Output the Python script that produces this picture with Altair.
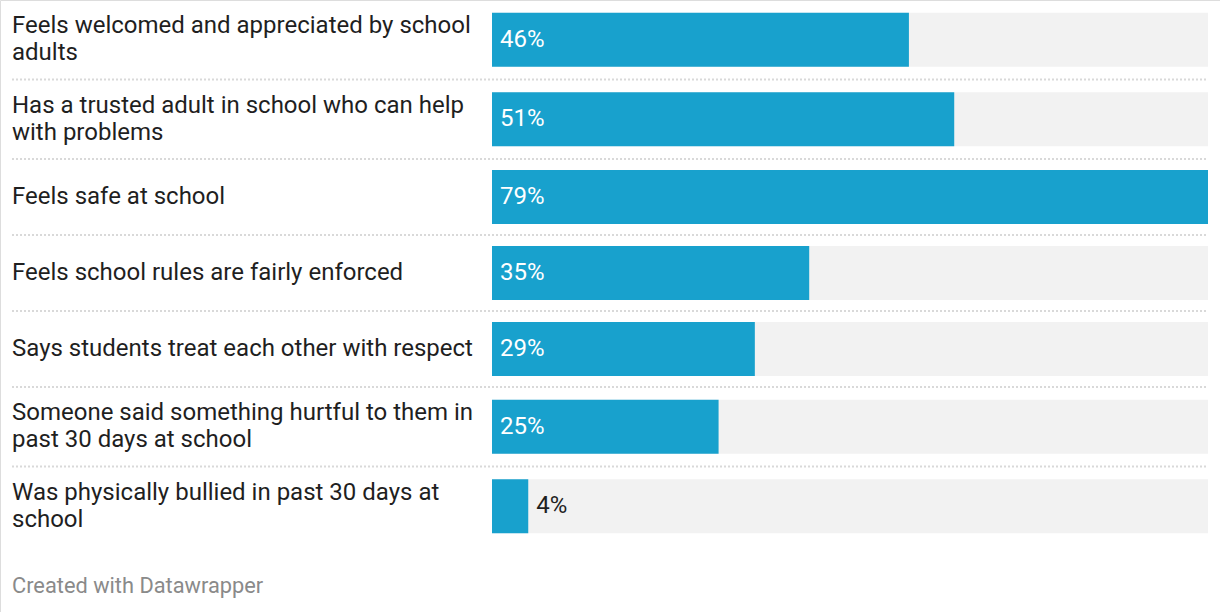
import altair as alt
import pandas as pd

labels = [
    "Feels welcomed and appreciated by school\nadults",
    "Has a trusted adult in school who can help\nwith problems",
    "Feels safe at school",
    "Feels school rules are fairly enforced",
    "Says students treat each other with respect",
    "Someone said something hurtful to them in\npast 30 days at school",
    "Was physically bullied in past 30 days at\nschool",
]
values = [46, 51, 79, 35, 29, 25, 4]

df = pd.DataFrame({"label": labels, "value": values, "idx": list(range(len(values)))})

FONT = "Roboto"
W, H = 1220, 612
LH = 27

xscale = alt.Scale(domain=[0, 79], range=[492, 1208], nice=False, zero=True)
yscale = alt.Scale(domain=[0, 546], range=[0, 546], nice=False, zero=False)

base = (
    alt.Chart(df)
    .transform_calculate(nl="length(split(datum.label, '\\n'))")
    .transform_calculate(rowh="datum.nl > 1 ? 79.5 : 76")
    .transform_window(cum="sum(rowh)", sort=[alt.SortField("idx")], frame=[None, 0])
    .transform_calculate(
        mid="datum.cum - datum.rowh / 2",
        y0="datum.cum - datum.rowh / 2 - 27",
        y1="datum.cum - datum.rowh / 2 + 27",
        ty=f"datum.cum - datum.rowh / 2 - (datum.nl - 1) * {LH} / 2",
        zero="0",
    )
    .transform_joinaggregate(maxv="max(value)")
)

bg = base.mark_rect(color="#f2f2f2").encode(
    x=alt.X("zero:Q", scale=xscale, axis=None),
    x2="maxv:Q",
    y=alt.Y("y0:Q", scale=yscale, axis=None),
    y2="y1:Q",
)

bars = base.mark_rect(color="#18a1cd").encode(
    x=alt.X("zero:Q", scale=xscale, axis=None),
    x2="value:Q",
    y=alt.Y("y0:Q", scale=yscale, axis=None),
    y2="y1:Q",
)

seps = base.transform_filter("datum.idx < 6").mark_rule(
    color="#d9d9d9", strokeWidth=2, strokeDash=[2, 2]
).encode(
    x=alt.value(12), x2=alt.value(1208),
    y=alt.Y("cum:Q", scale=yscale, axis=None),
)

cat_text = base.mark_text(
    align="left", baseline="middle", font=FONT, fontSize=24, color="#1f1f1f",
    lineHeight=LH, lineBreak="\n",
).encode(
    x=alt.value(12),
    y=alt.Y("ty:Q", scale=yscale, axis=None),
    text="label:N",
)

val_text = base.transform_calculate(
    pos="datum.value < 10 ? datum.value : 0",
    txt="datum.value + '%'",
).mark_text(
    align="left", baseline="middle", font=FONT, fontSize=24, dx=8,
).encode(
    x=alt.X("pos:Q", scale=xscale, axis=None),
    y=alt.Y("mid:Q", scale=yscale, axis=None),
    text="txt:N",
    color=alt.condition("datum.value < 10", alt.value("#1f1f1f"), alt.value("#ffffff")),
)

footer = alt.Chart(pd.DataFrame({"t": ["Created with Datawrapper"]})).mark_text(
    align="left", baseline="middle", font=FONT, fontSize=21.8, color="#8a8a8a"
).encode(x=alt.value(12), y=alt.value(586), text="t:N")

chart = alt.layer(bg, bars, seps, cat_text, val_text, footer).properties(
    width=W, height=H, padding=0, autosize=alt.AutoSizeParams(type="none")
).configure_view(stroke=None).configure(background="white")

chart.save("out.html", embed_options={"renderer": "svg", "actions": False})
